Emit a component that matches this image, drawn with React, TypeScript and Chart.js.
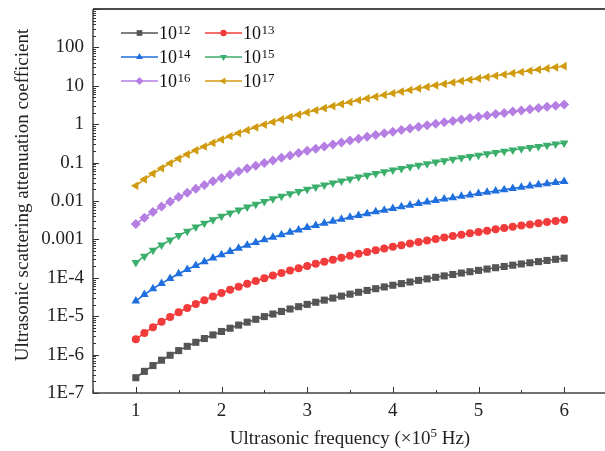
import React, { useEffect, useRef } from "react";
import { Chart, registerables } from "chart.js";
import { drawPoint } from "chart.js/helpers";

Chart.register(...registerables);

const freq = [
  1.0, 1.1, 1.2, 1.3, 1.4, 1.5, 1.6, 1.7, 1.8, 1.9,
  2.0, 2.1, 2.2, 2.3, 2.4, 2.5, 2.6, 2.7, 2.8, 2.9,
  3.0, 3.1, 3.2, 3.3, 3.4, 3.5, 3.6, 3.7, 3.8, 3.9,
  4.0, 4.1, 4.2, 4.3, 4.4, 4.5, 4.6, 4.7, 4.8, 4.9,
  5.0, 5.1, 5.2, 5.3, 5.4, 5.5, 5.6, 5.7, 5.8, 5.9, 6.0,
];

const s12 = [
  2.5e-7, 3.66e-7, 5.18e-7, 7.14e-7, 9.6e-7, 1.27e-6, 1.64e-6, 2.09e-6, 2.62e-6, 3.26e-6,
  4.0e-6, 4.86e-6, 5.86e-6, 7.0e-6, 8.29e-6, 9.77e-6, 1.14e-5, 1.33e-5, 1.54e-5, 1.77e-5,
  2.03e-5, 2.31e-5, 2.62e-5, 2.96e-5, 3.34e-5, 3.75e-5, 4.2e-5, 4.69e-5, 5.21e-5, 5.78e-5,
  6.4e-5, 7.06e-5, 7.78e-5, 8.55e-5, 9.37e-5, 1.03e-4, 1.12e-4, 1.22e-4, 1.33e-4, 1.44e-4,
  1.56e-4, 1.69e-4, 1.83e-4, 1.97e-4, 2.13e-4, 2.29e-4, 2.46e-4, 2.64e-4, 2.83e-4, 3.03e-4, 3.24e-4,
];
const s13 = [
  2.5e-6, 3.66e-6, 5.18e-6, 7.14e-6, 9.6e-6, 1.27e-5, 1.64e-5, 2.09e-5, 2.62e-5, 3.26e-5,
  4.0e-5, 4.86e-5, 5.86e-5, 7.0e-5, 8.29e-5, 9.77e-5, 1.14e-4, 1.33e-4, 1.54e-4, 1.77e-4,
  2.03e-4, 2.31e-4, 2.62e-4, 2.96e-4, 3.34e-4, 3.75e-4, 4.2e-4, 4.69e-4, 5.21e-4, 5.78e-4,
  6.4e-4, 7.06e-4, 7.78e-4, 8.55e-4, 9.37e-4, 1.03e-3, 1.12e-3, 1.22e-3, 1.33e-3, 1.44e-3,
  1.56e-3, 1.69e-3, 1.83e-3, 1.97e-3, 2.13e-3, 2.29e-3, 2.46e-3, 2.64e-3, 2.83e-3, 3.03e-3, 3.24e-3,
];
const s14 = [
  2.5e-5, 3.66e-5, 5.18e-5, 7.14e-5, 9.6e-5, 1.27e-4, 1.64e-4, 2.09e-4, 2.62e-4, 3.26e-4,
  4.0e-4, 4.86e-4, 5.86e-4, 7.0e-4, 8.29e-4, 9.77e-4, 1.14e-3, 1.33e-3, 1.54e-3, 1.77e-3,
  2.03e-3, 2.31e-3, 2.62e-3, 2.96e-3, 3.34e-3, 3.75e-3, 4.2e-3, 4.69e-3, 5.21e-3, 5.78e-3,
  6.4e-3, 7.06e-3, 7.78e-3, 8.55e-3, 9.37e-3, 1.03e-2, 1.12e-2, 1.22e-2, 1.33e-2, 1.44e-2,
  1.56e-2, 1.69e-2, 1.83e-2, 1.97e-2, 2.13e-2, 2.29e-2, 2.46e-2, 2.64e-2, 2.83e-2, 3.03e-2, 3.24e-2,
];
const s15 = [
  2.5e-4, 3.66e-4, 5.18e-4, 7.14e-4, 9.6e-4, 1.27e-3, 1.64e-3, 2.09e-3, 2.62e-3, 3.26e-3,
  4.0e-3, 4.86e-3, 5.86e-3, 7.0e-3, 8.29e-3, 9.77e-3, 1.14e-2, 1.33e-2, 1.54e-2, 1.77e-2,
  2.03e-2, 2.31e-2, 2.62e-2, 2.96e-2, 3.34e-2, 3.75e-2, 4.2e-2, 4.69e-2, 5.21e-2, 5.78e-2,
  6.4e-2, 7.06e-2, 7.78e-2, 8.55e-2, 9.37e-2, 1.03e-1, 1.12e-1, 1.22e-1, 1.33e-1, 1.44e-1,
  1.56e-1, 1.69e-1, 1.83e-1, 1.97e-1, 2.13e-1, 2.29e-1, 2.46e-1, 2.64e-1, 2.83e-1, 3.03e-1, 3.24e-1,
];
const s16 = [
  2.5e-3, 3.66e-3, 5.18e-3, 7.14e-3, 9.6e-3, 1.27e-2, 1.64e-2, 2.09e-2, 2.62e-2, 3.26e-2,
  4.0e-2, 4.86e-2, 5.86e-2, 7.0e-2, 8.29e-2, 9.77e-2, 1.14e-1, 1.33e-1, 1.54e-1, 1.77e-1,
  2.03e-1, 2.31e-1, 2.62e-1, 2.96e-1, 3.34e-1, 3.75e-1, 4.2e-1, 4.69e-1, 5.21e-1, 5.78e-1,
  6.4e-1, 7.06e-1, 7.78e-1, 8.55e-1, 9.37e-1, 1.03, 1.12, 1.22, 1.33, 1.44,
  1.56, 1.69, 1.83, 1.97, 2.13, 2.29, 2.46, 2.64, 2.83, 3.03, 3.24,
];
const s17 = [
  2.5e-2, 3.66e-2, 5.18e-2, 7.14e-2, 9.6e-2, 1.27e-1, 1.64e-1, 2.09e-1, 2.62e-1, 3.26e-1,
  4.0e-1, 4.86e-1, 5.86e-1, 7.0e-1, 8.29e-1, 9.77e-1, 1.14, 1.33, 1.54, 1.77,
  2.03, 2.31, 2.62, 2.96, 3.34, 3.75, 4.2, 4.69, 5.21, 5.78,
  6.4, 7.06, 7.78, 8.55, 9.37, 10.3, 11.2, 12.2, 13.3, 14.4,
  15.6, 16.9, 18.3, 19.7, 21.3, 22.9, 24.6, 26.4, 28.3, 30.3, 32.4,
];

const seriesExp = ["12", "13", "14", "15", "16", "17"];
const seriesValues = [s12, s13, s14, s15, s16, s17];
const seriesColors = ["#555555", "#f23c3c", "#1f6fde", "#3aae6b", "#b57ee3", "#d19b0f"];
const seriesStyles = ["rect", "circle", "triangle", "triangle", "rectRot", "triangle"];
const seriesRotation = [0, 0, 0, 180, 0, 270];
const seriesRadius = [5, 4, 5, 5, 5, 5];

const yTickValues = [1e-7, 1e-6, 1e-5, 1e-4, 1e-3, 1e-2, 1e-1, 1, 10, 100];
const yTickLabels = ["1E-7", "1E-6", "1E-5", "1E-4", "0.001", "0.01", "0.1", "1", "10", "100"];
const xTickValues = [1, 2, 3, 4, 5, 6];
const xTickLabels = ["1", "2", "3", "4", "5", "6"];

const FONT = "'Liberation Serif', 'Times New Roman', serif";

const decorPlugin = {
  id: "decor",
  afterDraw(chart: any) {
    const ctx = chart.ctx as CanvasRenderingContext2D;
    const { left, right, top, bottom } = chart.chartArea;
    const xs = chart.scales.x;
    const ys = chart.scales.y;
    ctx.save();
    // frame
    ctx.lineWidth = 1.5;
    ctx.strokeStyle = "#111";
    ctx.beginPath();
    ctx.moveTo(left, top);
    ctx.lineTo(right, top);
    ctx.lineTo(right, bottom);
    ctx.stroke();
    ctx.strokeStyle = "#444";
    ctx.beginPath();
    ctx.moveTo(left, top);
    ctx.lineTo(left, bottom);
    ctx.lineTo(right, bottom);
    ctx.stroke();
    // y ticks (inward)
    ctx.lineWidth = 1;
    ctx.strokeStyle = "#333";
    for (let e = -7; e <= 3; e++) {
      const base = Math.pow(10, e);
      const py = Math.round(ys.getPixelForValue(base)) + 0.5;
      ctx.beginPath();
      ctx.moveTo(left, py);
      ctx.lineTo(left + 6, py);
      ctx.stroke();
      if (e < 3) {
        for (let m = 2; m <= 9; m++) {
          const my = Math.round(ys.getPixelForValue(base * m)) + 0.5;
          ctx.beginPath();
          ctx.moveTo(left, my);
          ctx.lineTo(left + 3, my);
          ctx.stroke();
        }
      }
    }
    // x ticks (inward)
    for (let v = 1; v <= 13; v++) {
      const xv = v * 0.5;
      const px = Math.round(xs.getPixelForValue(xv)) + 0.5;
      const len = v % 2 === 0 ? 6 : 3;
      ctx.beginPath();
      ctx.moveTo(px, bottom);
      ctx.lineTo(px, bottom - len);
      ctx.stroke();
    }
    // x title
    ctx.fillStyle = "#222";
    ctx.textBaseline = "alphabetic";
    const t1 = "Ultrasonic frequency (\u00d710";
    const t2 = "5";
    const t3 = " Hz)";
    ctx.font = `19px ${FONT}`;
    const w1 = ctx.measureText(t1).width;
    const w3 = ctx.measureText(t3).width;
    ctx.font = `13px ${FONT}`;
    const w2 = ctx.measureText(t2).width;
    const total = w1 + w2 + w3;
    const cx = (left + right) / 2;
    const tx = cx - total / 2;
    const ty = 444;
    ctx.font = `19px ${FONT}`;
    ctx.textAlign = "left";
    ctx.fillText(t1, tx, ty);
    ctx.font = `13px ${FONT}`;
    ctx.fillText(t2, tx + w1, ty - 7);
    ctx.font = `19px ${FONT}`;
    ctx.fillText(t3, tx + w1 + w2, ty);
    // y title
    ctx.save();
    ctx.translate(28, 195);
    ctx.rotate(-Math.PI / 2);
    ctx.textAlign = "center";
    ctx.font = `19px ${FONT}`;
    ctx.fillText("Ultrasonic scattering attenuation coefficient", 0, 0);
    ctx.restore();
    // legend
    const colX = [121, 205];
    const rowY = [33, 57, 81];
    for (let i = 0; i < seriesExp.length; i++) {
      const c = i % 2;
      const r = Math.floor(i / 2);
      const x0 = colX[c];
      const y0 = rowY[r];
      ctx.strokeStyle = seriesColors[i];
      ctx.fillStyle = seriesColors[i];
      ctx.lineWidth = 1.5;
      ctx.beginPath();
      ctx.moveTo(x0, y0);
      ctx.lineTo(x0 + 37, y0);
      ctx.stroke();
      drawPoint(
        ctx,
        {
          pointStyle: seriesStyles[i],
          rotation: seriesRotation[i],
          radius: seriesRadius[i] * 0.8,
          borderWidth: 0,
        } as any,
        x0 + 18.5,
        y0
      );
      ctx.fillStyle = "#111";
      ctx.font = `18px ${FONT}`;
      ctx.textAlign = "left";
      const lx = x0 + 38;
      ctx.fillText("10", lx, y0 + 6);
      const wb = ctx.measureText("10").width;
      ctx.font = `13px ${FONT}`;
      ctx.fillText(seriesExp[i], lx + wb + 0.5, y0 + 1);
    }
    ctx.restore();
  },
};

export default function App() {
  const ref = useRef<HTMLCanvasElement | null>(null);
  useEffect(() => {
    if (!ref.current) return;
    const datasets = seriesValues.map((vals, i) => ({
      label: "10^" + seriesExp[i],
      data: freq.map((f, j) => ({ x: f, y: vals[j] })),
      borderColor: seriesColors[i],
      backgroundColor: seriesColors[i],
      borderWidth: 1.6,
      pointStyle: seriesStyles[i],
      rotation: seriesRotation[i],
      pointRadius: seriesRadius[i],
      pointBorderWidth: 0,
      pointBackgroundColor: seriesColors[i],
      tension: 0,
    }));
    const chart = new Chart(ref.current, {
      type: "line",
      data: { datasets },
      plugins: [decorPlugin],
      options: {
        animation: false,
        responsive: false,
        maintainAspectRatio: false,
        layout: { padding: { left: 0, top: 9, right: 5, bottom: 0 } },
        plugins: { legend: { display: false }, tooltip: { enabled: false } },
        scales: {
          x: {
            type: "linear",
            min: 0.5,
            max: 6.5,
            grid: { display: false, drawTicks: false },
            border: { display: false },
            afterBuildTicks: (scale: any) => {
              scale.ticks = xTickValues.map((v) => ({ value: v }));
            },
            afterFit: (scale: any) => {
              scale.height = 58;
              scale.paddingLeft = 0;
              scale.paddingRight = 0;
            },
            ticks: {
              padding: 7,
              color: "#222",
              font: { family: FONT, size: 19 },
              maxRotation: 0,
              callback: (v: any) => {
                const idx = xTickValues.indexOf(Number(v));
                return idx >= 0 ? xTickLabels[idx] : "";
              },
            },
          },
          y: {
            type: "logarithmic",
            min: 1e-7,
            max: 1000,
            grid: { display: false, drawTicks: false },
            border: { display: false },
            afterBuildTicks: (scale: any) => {
              scale.ticks = yTickValues.map((v) => ({ value: v, major: true }));
            },
            afterFit: (scale: any) => {
              scale.width = 93;
              scale.paddingTop = 0;
              scale.paddingBottom = 0;
            },
            ticks: {
              padding: 9,
              color: "#222",
              font: { family: FONT, size: 19 },
              autoSkip: false,
              callback: (v: any) => {
                const idx = yTickValues.findIndex((t) => Math.abs(Math.log10(t) - Math.log10(Number(v))) < 1e-6);
                return idx >= 0 ? yTickLabels[idx] : "";
              },
            },
          },
        },
      },
    });
    return () => chart.destroy();
  }, []);
  return (
    <div style={{ position: "fixed", left: 0, top: 0, width: 612, height: 451, background: "#fff" }}>
      <canvas ref={ref} width={612} height={451} style={{ width: 612, height: 451 }} />
    </div>
  );
}
